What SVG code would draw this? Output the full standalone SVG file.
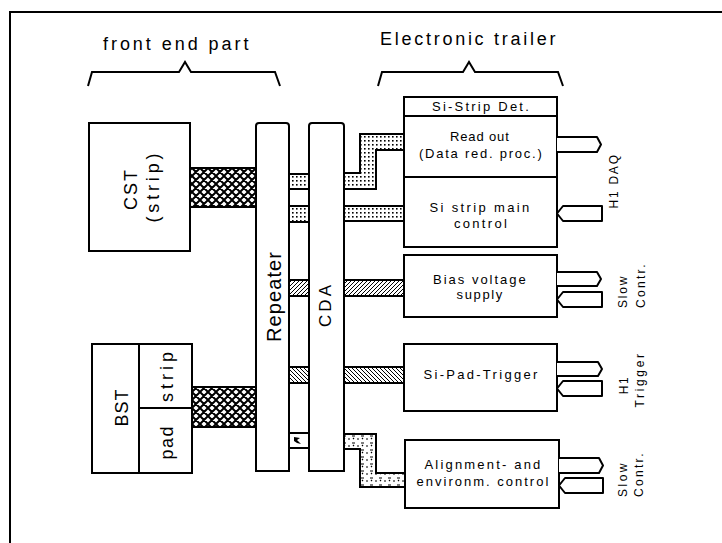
<svg xmlns="http://www.w3.org/2000/svg" width="722" height="543" viewBox="0 0 722 543">
<style>
.box{fill:#fff;stroke:#000;stroke-width:2}
.ln{fill:none;stroke:#000;stroke-width:2}
.t{font-family:"Liberation Sans",Arial,sans-serif;font-size:13px;fill:#000;text-anchor:middle;letter-spacing:1.2px}
.big{font-family:"Liberation Sans",Arial,sans-serif;font-size:18px;fill:#000;letter-spacing:1.5px}
.rot{font-family:"Liberation Sans",Arial,sans-serif;font-size:18px;fill:#000;text-anchor:middle}
.side{font-family:"Liberation Sans",Arial,sans-serif;font-size:12px;fill:#000;letter-spacing:1.5px}
.arr{fill:#fff;stroke:#000;stroke-width:2;stroke-linejoin:round}
.cx{fill:url(#xh);stroke:#000;stroke-width:2}
.cd{fill:url(#dots);stroke:#000;stroke-width:2}
.cf{fill:url(#hf);stroke:#000;stroke-width:2}
.cb{fill:url(#hb);stroke:#000;stroke-width:2}
.cs{fill:url(#scr);stroke:#000;stroke-width:2}
</style>
<defs>
<pattern id="xh" width="8" height="8" patternUnits="userSpaceOnUse">
<rect width="8" height="8" fill="#fff"/>
<path d="M0,0 L8,8 M8,0 L0,8 M-1,1 L1,-1 M7,9 L9,7 M-1,7 L1,9 M7,-1 L9,1" stroke="#000" stroke-width="2"/>
</pattern>
<pattern id="dots" width="4" height="4" patternUnits="userSpaceOnUse">
<rect width="4" height="4" fill="#fff"/>
<rect x="0" y="0" width="1.6" height="1.6" fill="#000"/>
</pattern>
<pattern id="hf" width="4" height="4" patternUnits="userSpaceOnUse">
<rect width="4" height="4" fill="#fff"/>
<path d="M0,4 L4,0 M-1,1 L1,-1 M3,5 L5,3" stroke="#000" stroke-width="1"/>
</pattern>
<pattern id="hb" width="4" height="4" patternUnits="userSpaceOnUse">
<rect width="4" height="4" fill="#fff"/>
<path d="M0,0 L4,4 M-1,3 L1,5 M3,-1 L5,1" stroke="#000" stroke-width="1"/>
</pattern>
<pattern id="scr" width="9" height="7" patternUnits="userSpaceOnUse">
<rect width="9" height="7" fill="#fff"/>
<path d="M1,2 H4 M6,5 H8 M2,5 L3,4" stroke="#000" stroke-width="1.2"/>
</pattern>
</defs>

<g id="frame">
<path class="ln" d="M10,543 V12 H722"/>
</g>

<g id="titles">
<text class="big" x="103" y="50" textLength="147" lengthAdjust="spacing">front end part</text>
<path class="ln" d="M88,86 L92,72 H179 L185,62 L191,72 H275 L280,86" stroke-width="1.8"/>
<text class="big" x="380" y="45" textLength="177" lengthAdjust="spacing">Electronic trailer</text>
<path class="ln" d="M378,86 L382,72 H463 L469,62 L475,72 H558 L563,86" stroke-width="1.8"/>
</g>

<g id="connectors">
<rect class="cx" x="190" y="168" width="66" height="39"/>
<rect class="cx" x="192" y="387" width="64" height="40"/>
<rect class="cd" x="289" y="174" width="20" height="15"/>
<rect class="cd" x="289" y="206" width="20" height="16"/>
<rect class="cf" x="289" y="280" width="20" height="16"/>
<rect class="cb" x="289" y="367" width="20" height="16"/>
<rect class="box" x="289" y="433" width="20" height="15"/>
<path d="M294,437 L300,438 L297,440 L301,444 L297,443 L294,441 Z" fill="#000"/>
<path class="cd" d="M344,173 H360 V134 H404 V150 H376 V189 H344 Z"/>
<rect class="cd" x="344" y="206" width="60" height="15"/>
<rect class="cf" x="344" y="280" width="60" height="16"/>
<rect class="cb" x="344" y="367" width="60" height="16"/>
<path class="cs" d="M344,434 H376 V473 H405 V487 H360 V449 H344 Z"/>
</g>

<g id="cst">
<rect class="box" x="89" y="123" width="101" height="128"/>
<text class="rot" transform="translate(137,190) rotate(-90)" textLength="40" lengthAdjust="spacing">CST</text>
<text class="rot" transform="translate(159,188) rotate(-90)" textLength="69" lengthAdjust="spacing">(strip)</text>
</g>

<g id="bst">
<rect class="box" x="92" y="344" width="100" height="129"/>
<path class="ln" d="M139,344 V473 M139,408 H192"/>
<text class="rot" transform="translate(128,408) rotate(-90)" textLength="37" lengthAdjust="spacing">BST</text>
<text class="rot" transform="translate(173,377) rotate(-90)" textLength="50" lengthAdjust="spacing">strip</text>
<text class="rot" transform="translate(173,443) rotate(-90)" textLength="33" lengthAdjust="spacing">pad</text>
</g>

<g id="repeater">
<path class="box" d="M256,471 V126 Q256,123 259,123 H286 Q289,123 289,126 V471 Z"/>
<text class="rot" transform="translate(281,297) rotate(-90)" textLength="90" lengthAdjust="spacing" style="font-size:20px">Repeater</text>
</g>

<g id="cda">
<path class="box" d="M309,471 V126 Q309,123 312,123 H341 Q344,123 344,126 V471 Z"/>
<text class="rot" transform="translate(331,306) rotate(-90)" textLength="42" lengthAdjust="spacing" style="font-size:17px">CDA</text>
</g>

<g id="sistrip">
<rect class="box" x="404" y="97" width="153" height="150"/>
<path class="ln" d="M404,116 H557 M404,177 H557"/>
<text class="t" x="481" y="111" textLength="98" lengthAdjust="spacing">Si-Strip Det.</text>
<text class="t" x="480" y="141" textLength="60" lengthAdjust="spacing">Read out</text>
<text class="t" x="481" y="158" textLength="124" lengthAdjust="spacing">(Data red. proc.)</text>
<text class="t" x="480" y="212" textLength="101" lengthAdjust="spacing">Si strip main</text>
<text class="t" x="481" y="228" textLength="54" lengthAdjust="spacing">control</text>
<path class="arr" d="M557,137 H597 L601,144.5 L597,152 H557"/>
<path class="arr" d="M602,206 H563 L557,213.5 L563,221 H602 Z"/>
</g>

<g id="bias">
<rect class="box" x="404" y="255" width="153" height="62"/>
<text class="t" x="480" y="284" textLength="94" lengthAdjust="spacing">Bias voltage</text>
<text class="t" x="480" y="299" textLength="47" lengthAdjust="spacing">supply</text>
<path class="arr" d="M557,272 H597 L601,279 L597,286 H557"/>
<path class="arr" d="M602,292 H563 L557,299.5 L563,307 H602 Z"/>
</g>

<g id="sipad">
<rect class="box" x="404" y="344" width="153" height="67"/>
<text class="t" x="481" y="379" textLength="115" lengthAdjust="spacing">Si-Pad-Trigger</text>
<path class="arr" d="M557,362 H598 L602,369 L598,376 H557"/>
<path class="arr" d="M602,381 H563 L557,388.5 L563,396 H602 Z"/>
</g>

<g id="align">
<rect class="box" x="405" y="440" width="154" height="68"/>
<text class="t" x="483" y="469" textLength="117" lengthAdjust="spacing">Alignment-  and</text>
<text class="t" x="483" y="486" textLength="133" lengthAdjust="spacing">environm.  control</text>
<path class="arr" d="M559,458 H599 L603,465.5 L599,473 H559"/>
<path class="arr" d="M603,478 H565 L559,485.5 L565,493 H603 Z"/>
</g>

<g id="labels">
<text class="side" transform="translate(618,181) rotate(-90)" text-anchor="middle" textLength="55" lengthAdjust="spacing">H1 DAQ</text>
<text class="side" transform="translate(627,308) rotate(-90)" textLength="33" lengthAdjust="spacing">Slow</text>
<text class="side" transform="translate(645,308) rotate(-90)" textLength="45" lengthAdjust="spacing">Contr.</text>
<text class="side" transform="translate(628,385) rotate(-90)" text-anchor="middle">H1</text>
<text class="side" transform="translate(644,380) rotate(-90)" text-anchor="middle" textLength="55" lengthAdjust="spacing">Trigger</text>
<text class="side" transform="translate(627,497) rotate(-90)" textLength="35" lengthAdjust="spacing">Slow</text>
<text class="side" transform="translate(643,497) rotate(-90)" textLength="45" lengthAdjust="spacing">Contr.</text>
</g>
</svg>
